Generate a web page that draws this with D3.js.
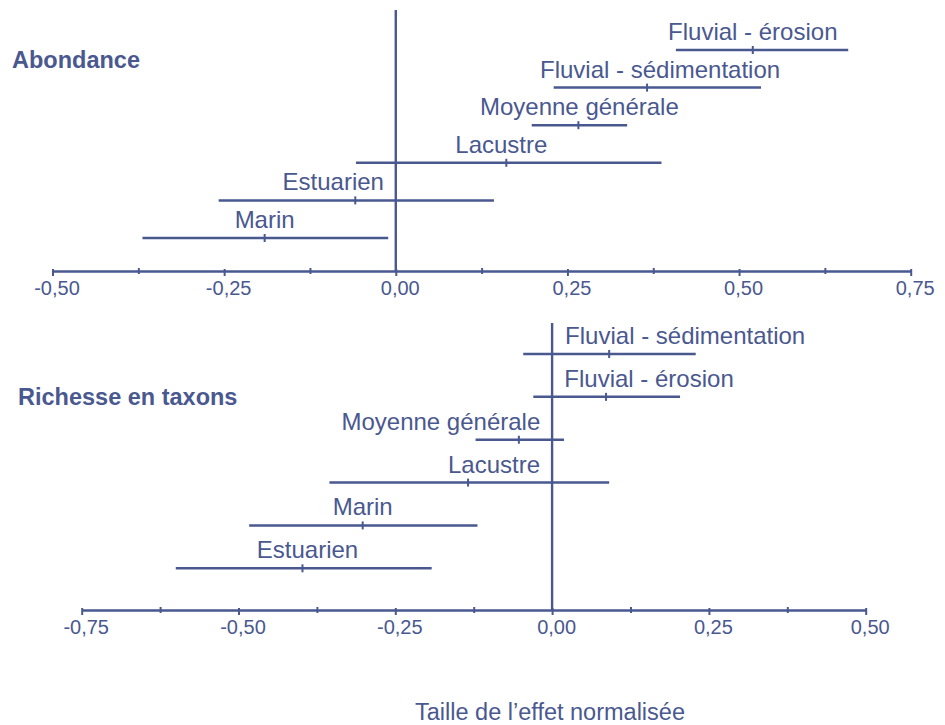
<!DOCTYPE html>
<html>
<head>
<meta charset="utf-8">
<script src="https://cdn.jsdelivr.net/npm/d3@7"></script>
<style>
  html, body { margin: 0; padding: 0; background: #ffffff; }
  svg { display: block; font-family: "Liberation Sans", Arial, sans-serif; }
</style>
</head>
<body>
<svg id="chart" width="945" height="725"></svg>
<script>
// Abondance: effect size estimates with confidence limits
const catsTop = ["Fluvial - érosion", "Fluvial - sédimentation", "Moyenne générale", "Lacustre", "Estuarien", "Marin"];
const estTop = [0.520, 0.366, 0.266, 0.161, -0.059, -0.191];
const loTop  = [0.408, 0.230, 0.198, -0.058, -0.258, -0.369];
const hiTop  = [0.659, 0.532, 0.337, 0.387, 0.143, -0.011];

// Richesse en taxons
const catsBottom = ["Fluvial - sédimentation", "Fluvial - érosion", "Moyenne générale", "Lacustre", "Marin", "Estuarien"];
const estBottom = [0.091, 0.086, -0.053, -0.134, -0.302, -0.398];
const loBottom  = [-0.046, -0.030, -0.122, -0.355, -0.483, -0.600];
const hiBottom  = [0.229, 0.204, 0.019, 0.091, -0.119, -0.192];

// Axis ticks
const ticksTop = [-0.50, -0.25, 0.00, 0.25, 0.50, 0.75];
const ticksBottom = [-0.75, -0.50, -0.25, 0.00, 0.25, 0.50];

const panelTitles = ["Abondance", "Richesse en taxons"];
const axisTitle = "Taille de l\u2019effet normalisée";

// Horizontal nudges (px) that keep labels clear of the zero line
const nudgeTop = [0, 13, 1, -5, -22, 0];
const nudgeBottom = [76, 43, -78, 26, 0, 5];

const color = "#4a5890";
const fr = d3.formatLocale({decimal: ",", thousands: " ", grouping: [3], currency: ["", " €"], minus: "-"});
const fmt = fr.format(".2f");

const svg = d3.select("#chart");

function panel(cfg) {
  const x = d3.scaleLinear().domain(cfg.domain).range(cfg.xRange);
  const y = d3.scalePoint().domain(cfg.cats).range(cfg.yRange);
  const g = svg.append("g");

  // zero reference line
  g.append("line")
    .attr("x1", x(0)).attr("x2", x(0))
    .attr("y1", cfg.zeroTop).attr("y2", cfg.axisY)
    .attr("stroke", color).attr("stroke-width", 2.4);

  // minor ticks
  const minor = d3.range(cfg.domain[0] + 0.125, cfg.domain[1], 0.25);
  const minorAxis = g.append("g")
    .attr("transform", `translate(0,${cfg.axisY})`)
    .call(d3.axisBottom(x).tickValues(minor).tickSize(3).tickFormat(""));
  minorAxis.select(".domain").remove();
  minorAxis.selectAll(".tick line").attr("y1", -3).attr("stroke", color).attr("stroke-width", 2);

  // main axis
  const ax = g.append("g")
    .attr("transform", `translate(0,${cfg.axisY})`)
    .call(d3.axisBottom(x).tickValues(cfg.ticks).tickSizeInner(5).tickSizeOuter(0).tickFormat(fmt));
  ax.select(".domain").attr("stroke", color).attr("stroke-width", 2.4);
  ax.selectAll(".tick line").attr("y1", -2).attr("stroke", color).attr("stroke-width", 2);
  ax.selectAll(".tick text")
    .attr("fill", color)
    .attr("font-size", "20px")
    .attr("font-family", "\"Liberation Sans\", Arial, sans-serif")
    .attr("y", 24).attr("dy", 0).attr("dx", 4);

  // confidence intervals
  g.selectAll("line.ci").data(cfg.cats).join("line")
    .attr("class", "ci")
    .attr("x1", (d, i) => x(cfg.lo[i]))
    .attr("x2", (d, i) => x(cfg.hi[i]))
    .attr("y1", d => y(d)).attr("y2", d => y(d))
    .attr("stroke", color).attr("stroke-width", 2.5);

  // point estimates
  g.selectAll("line.est").data(cfg.cats).join("line")
    .attr("class", "est")
    .attr("x1", (d, i) => x(cfg.est[i]))
    .attr("x2", (d, i) => x(cfg.est[i]))
    .attr("y1", d => y(d) - 4).attr("y2", d => y(d) + 4)
    .attr("stroke", color).attr("stroke-width", 2);

  // category labels
  g.selectAll("text.cat").data(cfg.cats).join("text")
    .attr("class", "cat")
    .attr("x", (d, i) => x(cfg.est[i]) + cfg.nudge[i])
    .attr("y", d => y(d) - 10)
    .attr("text-anchor", "middle")
    .attr("font-size", "24px")
    .attr("fill", color)
    .text(d => d);

  // panel title
  g.append("text")
    .attr("x", cfg.titleX).attr("y", cfg.titleY)
    .attr("font-size", "23.5px").attr("font-weight", "bold")
    .attr("fill", color)
    .text(cfg.title);
}

panel({
  cats: catsTop, est: estTop, lo: loTop, hi: hiTop, nudge: nudgeTop,
  ticks: ticksTop, domain: [-0.5, 0.75],
  xRange: [52.5, 910.7], yRange: [50, 238],
  axisY: 271, zeroTop: 10,
  title: panelTitles[0], titleX: 12, titleY: 68
});

panel({
  cats: catsBottom, est: estBottom, lo: loBottom, hi: hiBottom, nudge: nudgeBottom,
  ticks: ticksBottom, domain: [-0.75, 0.5],
  xRange: [81.7, 865.7], yRange: [354, 568.3],
  axisY: 610, zeroTop: 323,
  title: panelTitles[1], titleX: 18, titleY: 405
});

svg.append("text")
  .attr("x", 550).attr("y", 720)
  .attr("text-anchor", "middle")
  .attr("font-size", "23.5px")
  .attr("fill", color)
  .text(axisTitle);
</script>
</body>
</html>
